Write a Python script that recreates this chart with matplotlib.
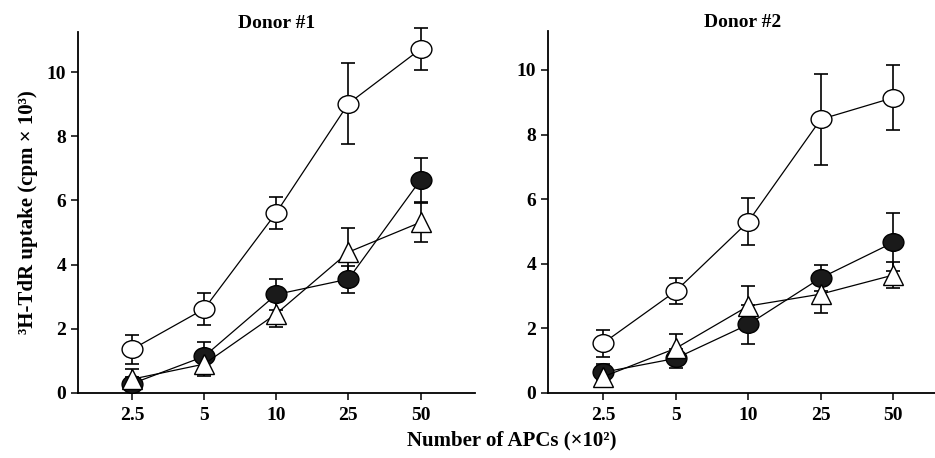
import numpy as np
import matplotlib
matplotlib.use("Agg")
import matplotlib.pyplot as plt
from matplotlib.path import Path

plt.rcParams['font.family'] = ['Liberation Serif', 'DejaVu Serif']
plt.rcParams['font.weight'] = 'bold'

apcs = ["2.5", "5", "10", "25", "50"]

# Donor #1
d1_open = [1.36, 2.62, 5.62, 9.02, 10.72]
d1_open_err = [0.46, 0.50, 0.50, 1.25, 0.65]
d1_filled = [0.29, 1.14, 3.07, 3.55, 6.64]
d1_filled_err = [0.20, 0.45, 0.48, 0.42, 0.68]
d1_tri = [0.43, 0.90, 2.47, 4.39, 5.32]
d1_tri_err = [0.33, 0.38, 0.42, 0.75, 0.60]

# Donor #2
d2_open = [1.54, 3.15, 5.30, 8.47, 9.14]
d2_open_err = [0.42, 0.40, 0.72, 1.40, 1.00]
d2_filled = [0.64, 1.07, 2.12, 3.56, 4.66]
d2_filled_err = [0.25, 0.30, 0.60, 0.40, 0.90]
d2_tri = [0.50, 1.38, 2.69, 3.06, 3.65]
d2_tri_err = [0.33, 0.45, 0.62, 0.58, 0.40]

circ = Path.unit_circle()
ellipse = Path(circ.vertices * np.array([1.0, 0.85]), circ.codes)


def draw_panel(ax, series, title, ymax):
    x = np.arange(len(apcs))
    for vals, errs, marker, face in series:
        ax.errorbar(x, vals, yerr=errs, fmt='none', ecolor='black',
                    elinewidth=1.2, capsize=5, capthick=1.2, zorder=1,
                    clip_on=False)
        ax.plot(x, vals, color='black', lw=0.9, marker=marker, ms=15,
                mfc=face, mec='black', mew=1.0, zorder=3, clip_on=False)
    ax.set_xticks(x)
    ax.set_xticklabels(apcs)
    ax.set_yticks([0, 2, 4, 6, 8, 10])
    ax.set_ylim(0, ymax)
    ax.set_title(title, fontsize=14, fontweight='bold', pad=2)
    for s in ['top', 'right']:
        ax.spines[s].set_visible(False)
    for s in ['left', 'bottom']:
        ax.spines[s].set_linewidth(1.3)
    ax.tick_params(direction='out', length=5, width=1.1, labelsize=14)
    ax.tick_params(axis='x', pad=5)


fig = plt.figure(figsize=(9.35, 4.58), dpi=100)
ax1 = fig.add_axes([0.0834, 0.142, 0.425, 0.788])
ax2 = fig.add_axes([0.586, 0.142, 0.416, 0.790])

draw_panel(ax1, [(d1_open, d1_open_err, ellipse, 'white'),
                 (d1_filled, d1_filled_err, ellipse, '#1a1a1a'),
                 (d1_tri, d1_tri_err, '^', 'white')], "Donor #1", 11.25)
ax1.set_xlim(-0.75, 4.76)

draw_panel(ax2, [(d2_open, d2_open_err, ellipse, 'white'),
                 (d2_filled, d2_filled_err, ellipse, '#1a1a1a'),
                 (d2_tri, d2_tri_err, '^', 'white')], "Donor #2", 11.2)
ax2.set_xlim(-0.76, 4.6)

ax1.set_ylabel("³H-TdR uptake (cpm × 10³)", fontsize=15, fontweight='bold',
               labelpad=6)
fig.text(0.547, 0.038, "Number of APCs (×10²)", ha='center', va='center',
         fontsize=15, fontweight='bold')

fig.savefig("out.png", dpi=100)
